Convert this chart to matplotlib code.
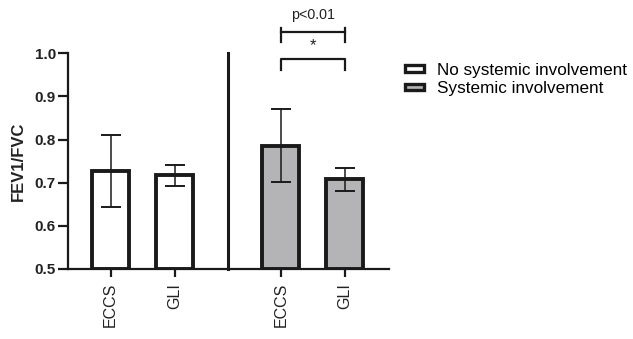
import matplotlib
matplotlib.use("Agg")
import matplotlib.pyplot as plt
from matplotlib.patches import Patch

plt.rcParams["font.family"] = ["Liberation Sans", "DejaVu Sans"]

# data
labels = ["ECCS", "GLI", "ECCS", "GLI"]
means = [0.727, 0.717, 0.786, 0.708]
sds = [0.084, 0.024, 0.085, 0.027]
groups = ["No systemic involvement", "No systemic involvement",
          "Systemic involvement", "Systemic involvement"]
group_names = ["No systemic involvement", "Systemic involvement"]
group_colors = {"No systemic involvement": "white",
                "Systemic involvement": "#b4b4b6"}

positions = [0, 1, 2.66, 3.66]
divider = 1.83
edge = "#1a1a1a"

fig = plt.figure(figsize=(6.33, 3.39), dpi=100)
ax = fig.add_axes([0.108, 0.2065, 0.507, 0.6363])

base = 0.5
ax.bar(positions, [m - base for m in means], bottom=base, width=0.58,
       color=[group_colors[g] for g in groups], edgecolor=edge,
       linewidth=2.8, zorder=2)
ax.errorbar(positions, means, yerr=sds, fmt="none", ecolor=edge,
            elinewidth=1.1, capsize=7.5, capthick=1.4, zorder=3)

# separator between the two groups
ax.plot([divider, divider], [0.5, 1.0], color=edge, lw=2.2, zorder=3,
        clip_on=False)

# significance brackets
x1, x2 = positions[2], positions[3]
ax.plot([x1, x2], [1.0486, 1.0486], color=edge, lw=1.6, clip_on=False)
for x in (x1, x2):
    ax.plot([x, x], [1.0262, 1.0595], color=edge, lw=1.6, clip_on=False)
ax.text((x1 + x2) / 2, 1.088, "p<0.01", ha="center", va="center",
        fontsize=10.3, color="#222222", clip_on=False)
ax.plot([x1, x1, x2, x2], [0.9622, 0.9877, 0.9877, 0.9622], color=edge,
        lw=1.6, clip_on=False)
ax.text((x1 + x2) / 2, 1.001, "*", ha="center", va="bottom",
        fontsize=12, color="#222222", clip_on=False)

ax.set_xlim(-0.66, 4.356)
ax.set_ylim(0.5, 1.0)
ax.set_yticks([0.5, 0.6, 0.7, 0.8, 0.9, 1.0])
ax.set_yticklabels([f"{v:.1f}" for v in [0.5, 0.6, 0.7, 0.8, 0.9, 1.0]],
                   fontweight="bold", fontsize=11, color="#222222")
ax.set_xticks(positions)
ax.set_xticklabels(labels, rotation=90, fontsize=11.5, color="#222222")
ax.set_ylabel("FEV1/FVC", fontweight="bold", fontsize=12, color="#222222",
              labelpad=6)

for side in ("top", "right"):
    ax.spines[side].set_visible(False)
for side in ("left", "bottom"):
    ax.spines[side].set_linewidth(1.6)
    ax.spines[side].set_color(edge)
ax.tick_params(axis="y", length=7, width=1.6, color=edge, pad=2)
ax.tick_params(axis="x", length=6, width=1.6, color=edge, pad=4)

handles = [Patch(facecolor=group_colors[g], edgecolor=edge, linewidth=2.4)
           for g in group_names]
fig.legend(handles, group_names, loc="upper left",
           bbox_to_anchor=(0.640, 0.8156), frameon=False, fontsize=12.3,
           handlelength=1.1, handleheight=0.22, handletextpad=0.75,
           labelspacing=0.22, borderpad=0, borderaxespad=0)

fig.savefig("out.png", dpi=100)
